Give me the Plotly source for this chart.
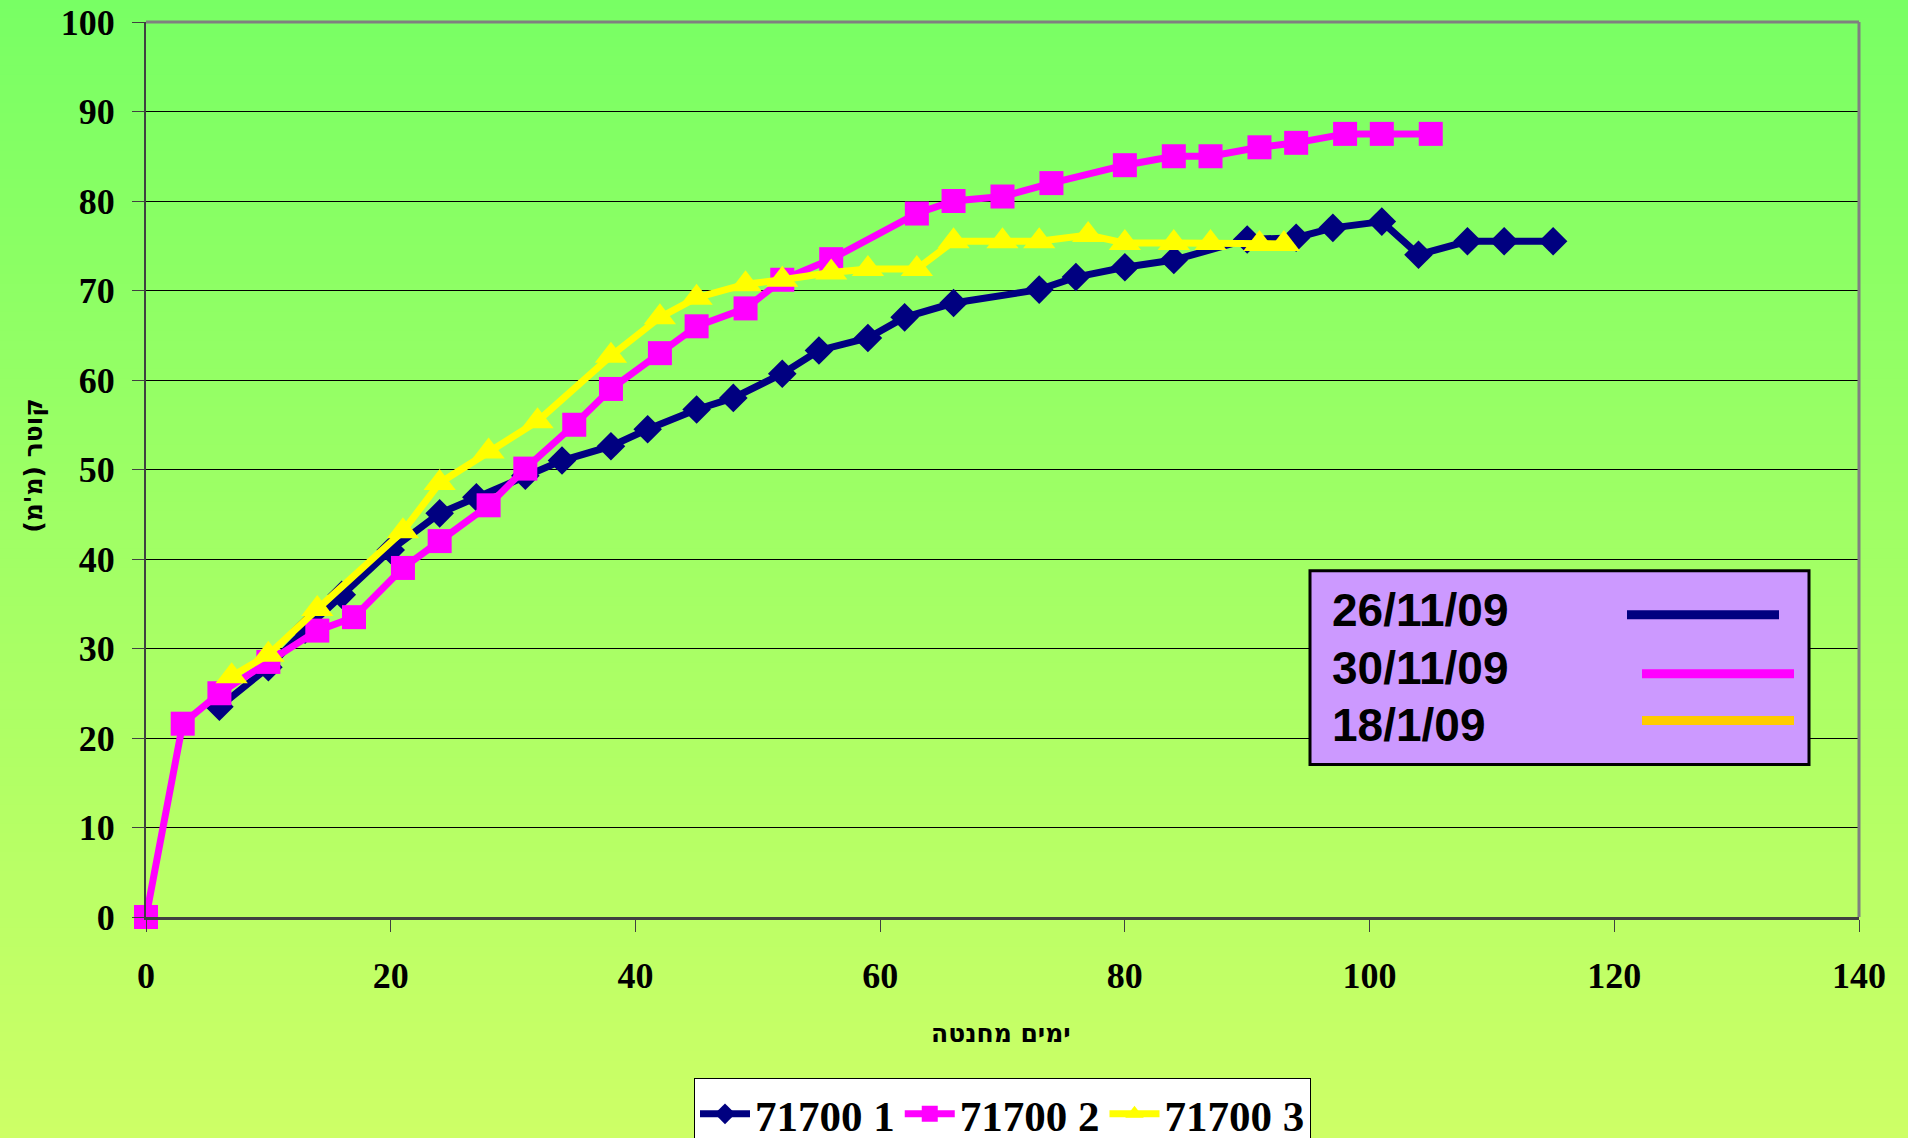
import plotly.graph_objects as go

# ---------------- data ----------------
days_1 = [6, 10, 13, 16, 20, 24, 27, 31, 34, 38, 41, 45, 48, 52, 55, 59, 62, 66,
          73, 76, 80, 84, 90, 94, 97, 101, 104, 108, 111, 115]
diam_1 = [23.5, 27.9, 32.1, 36.0, 41.0, 45.1, 46.9, 49.3, 51.0, 52.6, 54.5, 56.7,
          58.0, 60.7, 63.3, 64.7, 67.0, 68.6, 70.1, 71.5, 72.6, 73.4, 75.7, 75.9,
          77.0, 77.7, 74.0, 75.5, 75.5, 75.5]

days_2 = [0, 3, 6, 10, 14, 17, 21, 24, 28, 31, 35, 38, 42, 45, 49, 52, 56, 63, 66,
          70, 74, 80, 84, 87, 91, 94, 98, 101, 105]
diam_2 = [0, 21.6, 25.0, 28.5, 32.0, 33.5, 39.0, 42.0, 46.0, 50.1, 55.0, 59.0, 63.0,
          66.0, 68.0, 71.2, 73.5, 78.6, 80.0, 80.5, 82.0, 84.0, 85.0, 85.0, 86.0,
          86.5, 87.5, 87.5, 87.5]

days_3 = [7, 10, 14, 21, 24, 28, 32, 38, 42, 45, 49, 52, 56, 59, 63, 66, 70, 73,
          77, 80, 84, 87, 91, 93]
diam_3 = [26.9, 29.3, 34.4, 43.1, 48.5, 52.0, 55.4, 62.7, 67.0, 69.2, 70.7, 71.2,
          72.0, 72.4, 72.4, 75.5, 75.5, 75.5, 76.2, 75.3, 75.3, 75.3, 75.2, 75.2]

series_names = ["71700 1", "71700 2", "71700 3"]
date_labels = ["26/11/09", "30/11/09", "18/1/09"]
x_title = "ימים מחנטה"
y_title = "קוטר (מ'מ)"
x_ticks = [0, 20, 40, 60, 80, 100, 120, 140]
y_ticks = [0, 10, 20, 30, 40, 50, 60, 70, 80, 90, 100]

# ---------------- geometry ----------------
W, H = 1908, 1138
L, R, T, B = 146, 49, 22, 220.5
PW, PH = W - L - R, H - T - B


def px_x(p):
    return (p - L) / PW


def px_y(p):
    return (H - B - p) / PH


SERIF = "Liberation Serif, Times New Roman, serif"
SANS = "Liberation Sans, Arial, sans-serif"
HEB = "DejaVu Sans, Noto Sans, sans-serif"

fig = go.Figure()
styles = [
    dict(color="#000080", symbol="diamond", size=22),
    dict(color="#FF00FF", symbol="square", size=24),
    dict(color="#FFFF00", symbol="triangle-up", size=28),
]
for xs, ys, name, st in zip([days_1, days_2, days_3], [diam_1, diam_2, diam_3],
                            series_names, styles):
    fig.add_trace(go.Scatter(
        x=xs, y=ys, name=name, mode="lines+markers", cliponaxis=False,
        line=dict(color=st["color"], width=7),
        marker=dict(color=st["color"], symbol=st["symbol"], size=st["size"],
                    line=dict(width=0)),
    ))

shapes = []
# background gradient (green at top to yellow-green at bottom)
top_c = (120, 255, 100)
bot_c = (205, 255, 102)
n = 120
for i in range(n):
    y0p = H * i / n
    y1p = H * (i + 1) / n + 1
    t = (i + 0.5) / n
    c = tuple(round(a + (b - a) * t) for a, b in zip(top_c, bot_c))
    shapes.append(dict(type="rect", xref="paper", yref="paper", layer="below",
                       x0=px_x(-2), x1=px_x(W + 2), y0=px_y(y1p), y1=px_y(y0p - 1),
                       line=dict(width=0), fillcolor="rgb(%d,%d,%d)" % c))
# plot border top and right
shapes.append(dict(type="line", xref="paper", yref="paper", x0=0, x1=1, y0=1, y1=1,
                   line=dict(color="#808080", width=3)))
shapes.append(dict(type="line", xref="paper", yref="paper", x0=1, x1=1, y0=0, y1=1,
                   line=dict(color="#808080", width=3)))
# inner date box
shapes.append(dict(type="rect", xref="paper", yref="paper",
                   x0=px_x(1310), x1=px_x(1809), y0=px_y(765), y1=px_y(571),
                   fillcolor="#CC99FF", line=dict(color="black", width=3)))
line_cols = ["#000080", "#FF00FF", "#FFCC00"]
line_geo = [(1627, 1779, 615), (1642, 1794, 674), (1642, 1794, 721)]
for col, (a, b, yy) in zip(line_cols, line_geo):
    shapes.append(dict(type="line", xref="paper", yref="paper",
                       x0=px_x(a), x1=px_x(b), y0=px_y(yy), y1=px_y(yy),
                       line=dict(color=col, width=9)))

annotations = []
for lab, yy in zip(date_labels, [610, 668, 725]):
    annotations.append(dict(text=lab, xref="paper", yref="paper", x=px_x(1330),
                            y=px_y(yy), xanchor="left", yanchor="middle",
                            showarrow=False,
                            font=dict(family=SANS, size=46, color="black", weight="bold")))
annotations.append(dict(text=x_title, xref="paper", yref="paper", x=px_x(1001),
                        y=px_y(1034), xanchor="center", yanchor="middle", showarrow=False,
                        font=dict(family=HEB, size=25, color="black", weight="bold")))
annotations.append(dict(text=y_title, xref="paper", yref="paper", x=px_x(34),
                        y=px_y(466), xanchor="center", yanchor="middle", showarrow=False,
                        textangle=-90,
                        font=dict(family=HEB, size=25, color="black", weight="bold")))

fig.update_layout(
    width=W, height=H,
    margin=dict(l=L, r=R, t=T, b=B, pad=0, autoexpand=False),
    paper_bgcolor="rgb(120,255,100)",
    plot_bgcolor="rgba(0,0,0,0)",
    shapes=shapes,
    annotations=annotations,
    showlegend=True,
    legend=dict(orientation="h", x=0.5, xanchor="center", y=px_y(1079), yanchor="top",
                bgcolor="white", bordercolor="black", borderwidth=1,
                font=dict(family=SERIF, size=43, color="black", weight="bold"),
                itemwidth=50, tracegroupgap=0, traceorder="normal"),
    xaxis=dict(range=[0, 140], tickvals=x_ticks, showgrid=False, zeroline=False,
               showline=True, linecolor="#404040", linewidth=3,
               ticks="outside", ticklen=12, tickwidth=1, tickcolor="#404040",
               ticklabelstandoff=13,
               tickfont=dict(family=SERIF, size=36, color="black", weight="bold")),
    yaxis=dict(range=[0, 100], tickvals=y_ticks, showgrid=True, gridcolor="black",
               gridwidth=1, zeroline=False, showline=True, linecolor="#404040",
               linewidth=2, ticks="outside", ticklen=12, tickwidth=1,
               tickcolor="#404040", ticklabelstandoff=10,
               tickfont=dict(family=SERIF, size=36, color="black", weight="bold")),
)

fig.write_html("out.html", config={"displayModeBar": False},
               post_script="document.body.style.margin='0';document.body.style.overflow='hidden';")
